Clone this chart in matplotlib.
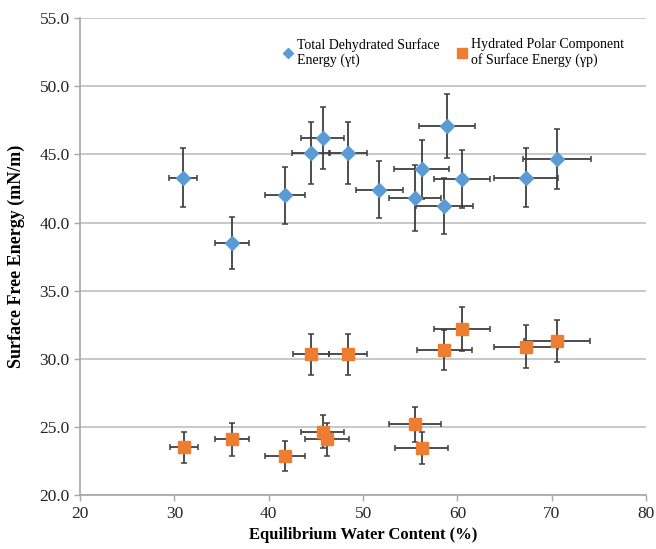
import numpy as np
import matplotlib.pyplot as plt
from matplotlib.lines import Line2D

# Total dehydrated surface energy (yt)
ewc_t = [30.9, 36.1, 41.7, 44.5, 45.7, 48.4, 51.7, 55.5, 56.2, 58.9, 58.6, 60.5, 67.3, 70.6]
xerr_t = [1.5, 1.8, 2.1, 2.0, 2.3, 2.0, 2.5, 2.8, 2.9, 3.0, 3.0, 3.0, 3.4, 3.6]
sfe_t = [43.3, 38.5, 42.0, 45.1, 46.2, 45.1, 42.4, 41.8, 43.9, 47.1, 41.2, 43.2, 43.3, 44.7]
yerr_t = [2.15, 1.9, 2.1, 2.25, 2.3, 2.25, 2.1, 2.4, 2.15, 2.35, 2.05, 2.15, 2.15, 2.2]

# Hydrated polar component (yp)
ewc_p = [31.0, 36.1, 41.7, 44.5, 48.4, 45.7, 46.2, 60.5, 58.6, 67.3, 70.6, 55.5, 56.2]
xerr_p = [1.5, 1.8, 2.1, 1.9, 2.0, 2.3, 2.35, 3.0, 2.9, 3.4, 3.5, 2.8, 2.85]
sfe_p = [23.5, 24.1, 22.9, 30.35, 30.35, 24.65, 24.1, 32.2, 30.65, 30.9, 31.3, 25.2, 23.45]
yerr_p = [1.15, 1.2, 1.1, 1.5, 1.5, 1.2, 1.2, 1.6, 1.5, 1.55, 1.55, 1.27, 1.15]

labels = ['Total Dehydrated Surface\nEnergy (\u03b3t)',
          'Hydrated Polar Component\nof Surface Energy (\u03b3p)']

plt.rcParams['font.family'] = ['Liberation Serif', 'DejaVu Serif']

fig = plt.figure(figsize=(6.56, 5.49), dpi=100)
ax = fig.add_axes([0.122, 0.098, 0.863, 0.869])

err_style = dict(ecolor='#3f3f3f', elinewidth=1.3, capsize=2.5, capthick=1.1, linestyle='none')
ax.errorbar(ewc_t, sfe_t, xerr=xerr_t, yerr=yerr_t, fmt='D', color='#5B9BD5', ms=7.5,
            mec='#5B9BD5', zorder=3, **err_style)
ax.errorbar(ewc_p, sfe_p, xerr=xerr_p, yerr=yerr_p, fmt='s', color='#ED7D31', ms=9,
            mec='#ED7D31', zorder=3, **err_style)

ax.set_xlim(20, 80)
ax.set_ylim(20, 55)
ax.set_xticks(np.arange(20, 81, 10))
ax.set_yticks(np.arange(20, 55.1, 5))
ax.set_yticklabels(['%.1f' % v for v in np.arange(20, 55.1, 5)])
ax.grid(axis='y', color='#bfbfbf', linewidth=1.2)
ax.set_axisbelow(True)
for s in ['top', 'right']:
    ax.spines[s].set_visible(False)
for s in ['left', 'bottom']:
    ax.spines[s].set_color('#a6a6a6')
    ax.spines[s].set_linewidth(1.2)
ax.tick_params(colors='#a6a6a6', labelcolor='#262626', labelsize=12.5, length=4, width=1)

ax.set_xlabel('Equilibrium Water Content (%)', fontsize=12, fontweight='bold', labelpad=4)
ax.set_ylabel('Surface Free Energy (mN/m)', fontsize=13, fontweight='bold', labelpad=10)

handles = [Line2D([], [], marker='D', ls='none', color='#5B9BD5', ms=5),
           Line2D([], [], marker='s', ls='none', color='#ED7D31', ms=7)]
ax.legend(handles, labels, loc='upper left', bbox_to_anchor=(0.335, 0.985), ncol=2, frameon=False,
          fontsize=10, handlelength=0.8, handletextpad=0.3, columnspacing=1.15,
          labelspacing=0.2)

fig.savefig('out.png', dpi=100)
